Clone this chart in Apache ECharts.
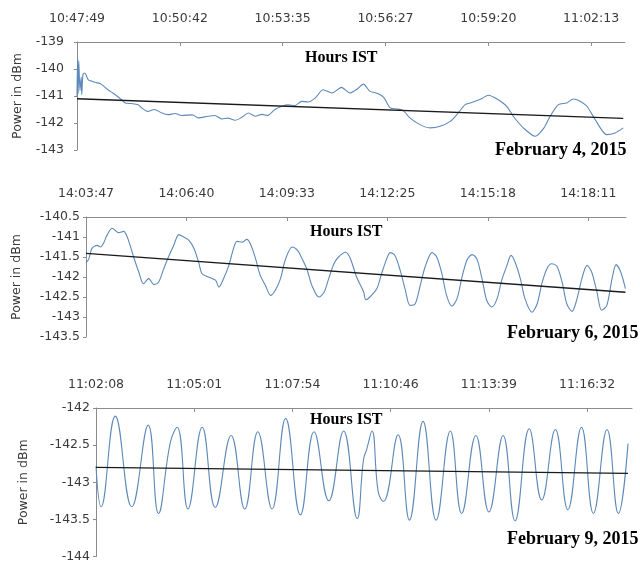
<!DOCTYPE html>
<html>
<head>
<meta charset="utf-8">
<script src="https://cdn.jsdelivr.net/npm/echarts@6/dist/echarts.min.js"></script>
<style>
html,body{margin:0;padding:0;background:#fff;}
#chart{width:640px;height:563px;}
</style>
</head>
<body>
<div id="chart"></div>
<script>
// ---------- tick labels (Hours IST) ----------
const ticksFeb4 = ['10:47:49','10:50:42','10:53:35','10:56:27','10:59:20','11:02:13'];
const ticksFeb6 = ['14:03:47','14:06:40','14:09:33','14:12:25','14:15:18','14:18:11'];
const ticksFeb9 = ['11:02:08','11:05:01','11:07:54','11:10:46','11:13:39','11:16:32'];
const tickStepSec = 173;              // 2 min 53 s between labelled ticks
const spanSec = [922, 930, 944];      // length of each record in seconds

// ---------- February 4, 2015 (seconds from 10:47:49, dBm) ----------
const feb4Time = [0,1,2,3,5,7,8,10,13,19,25,32,40,52,61,75,81,91,103,109,119,130,143,153,165,176,194,204,220,232,244,254,266,278,288,300,311,321,333,345,355,367,378,389,401,414,429,445,459,471,482,493,505,516,527,539,549,560,577,594,611,628,639,653,663,673,682,692,706,723,734,751,771,785,796,810,824,835,847,858,872,891,905,919];
const feb4Power = [-141.0,-139.6,-140.9,-139.7,-140.8,-140.3,-140.95,-140.2,-140.15,-140.4,-140.45,-140.5,-140.55,-140.77,-140.9,-141.14,-141.26,-141.28,-141.32,-141.44,-141.57,-141.5,-141.63,-141.69,-141.65,-141.72,-141.7,-141.81,-141.75,-141.72,-141.85,-141.82,-141.9,-141.78,-141.63,-141.75,-141.68,-141.72,-141.5,-141.38,-141.33,-141.35,-141.2,-141.22,-141.07,-140.77,-140.89,-140.68,-140.89,-140.75,-140.56,-140.83,-140.9,-141.05,-141.44,-141.48,-141.54,-141.81,-142.06,-142.18,-142.12,-141.94,-141.69,-141.32,-141.25,-141.17,-141.08,-140.97,-141.1,-141.38,-141.75,-142.18,-142.49,-142.2,-141.75,-141.32,-141.26,-141.11,-141.2,-141.38,-141.88,-142.43,-142.37,-142.18];
const feb4TrendTime = [0, 919];
const feb4TrendPower = [-141.1, -141.83];

// ---------- February 6, 2015 (seconds from 14:03:47, dBm) ----------
const feb6Time = [0,5,10,19,25,31,36,45,50,56,65,71,76,82,91,99,108,117,125,134,142,151,160,168,177,186,194,200,211,223,229,237,246,254,260,269,277,283,292,300,309,318,326,335,343,355,364,372,381,389,401,410,418,427,435,447,455,466,478,482,489,501,509,518,524,532,541,550,558,567,575,584,596,604,613,621,630,639,647,656,665,673,682,690,699,708,716,725,732,739,748,756,768,777,785,794,802,811,820,828,837,845,854,863,871,880,888,897,906,913,921,929];
const feb6Power = [-141.65,-141.54,-141.29,-141.21,-141.25,-141.13,-140.96,-140.78,-140.83,-140.89,-140.86,-141.0,-141.21,-141.5,-141.88,-142.17,-142.04,-142.19,-142.13,-141.79,-141.5,-141.21,-140.94,-141.0,-141.08,-141.29,-141.63,-141.92,-142.0,-142.08,-142.25,-142.04,-141.71,-141.29,-141.11,-141.13,-141.06,-141.17,-141.54,-141.96,-142.21,-142.46,-142.33,-142.04,-141.58,-141.25,-141.33,-141.54,-141.83,-142.21,-142.5,-142.38,-142.04,-141.67,-141.5,-141.38,-141.53,-142.0,-142.37,-142.57,-142.5,-142.29,-141.92,-141.54,-141.39,-141.46,-141.83,-142.33,-142.71,-142.67,-142.25,-141.75,-141.39,-141.5,-141.92,-142.46,-142.73,-142.54,-142.04,-141.58,-141.44,-141.54,-142.04,-142.58,-142.75,-142.54,-142.08,-141.71,-141.46,-141.63,-142.04,-142.54,-142.88,-142.67,-142.17,-141.79,-141.67,-141.73,-142.13,-142.67,-142.86,-142.58,-142.04,-141.71,-141.88,-142.38,-142.83,-142.71,-142.04,-141.69,-141.88,-142.29];
const feb6TrendTime = [0, 929];
const feb6TrendPower = [-141.41, -142.38];

// ---------- February 9, 2015 (seconds from 11:02:08, dBm) ----------
const feb9Time = [0,9,34,63,92,110,131,143,162,187,210,238,262,285,310,334,360,384,410,436,460,471,477,486,497,506,532,552,576,599,624,644,669,692,717,738,763,785,809,831,855,876,900,920,937];
const feb9Power = [-142.78,-143.33,-142.11,-143.33,-142.23,-143.42,-142.46,-142.26,-143.36,-142.26,-143.34,-142.37,-143.36,-142.32,-143.36,-142.14,-143.44,-142.32,-143.25,-142.31,-143.49,-142.7,-142.55,-142.31,-143.13,-143.26,-142.36,-143.51,-142.18,-143.51,-142.31,-143.42,-142.37,-143.4,-142.37,-143.52,-142.28,-143.24,-142.29,-143.37,-142.26,-143.42,-142.29,-143.42,-142.48];
const feb9TrendTime = [0, 937];
const feb9TrendPower = [-142.8, -142.88];

// ---------- build ----------
const zip = (a, b) => a.map((v, i) => [v, b[i]]);
const panels = [
  {ticks: ticksFeb4, t: feb4Time, p: feb4Power, tt: feb4TrendTime, tp: feb4TrendPower, yMin: -143, yMax: -139, yInt: 1,
   grid: {left: 77, top: 42, width: 548, height: 108}, nameGap: 51, labelMargin: 13, smooth: 0.25},
  {ticks: ticksFeb6, t: feb6Time, p: feb6Power, tt: feb6TrendTime, tp: feb6TrendPower, yMin: -143.5, yMax: -140.5, yInt: 0.5,
   grid: {left: 86, top: 217, width: 540, height: 120}, nameGap: 63, labelMargin: 6, smooth: 0.3},
  {ticks: ticksFeb9, t: feb9Time, p: feb9Power, tt: feb9TrendTime, tp: feb9TrendPower, yMin: -144, yMax: -142, yInt: 0.5,
   grid: {left: 96, top: 408, width: 536, height: 149}, nameGap: 66, labelMargin: 6, smooth: 0.45}
];

const axisColor = '#8c8c8c';
const textColor = '#3a3a3a';
const grids = [], xAxes = [], yAxes = [], series = [];
panels.forEach((pn, i) => {
  grids.push(Object.assign({containLabel: false}, pn.grid));
  const tickVals = pn.ticks.map((_, k) => k * tickStepSec);
  xAxes.push({
    type: 'value', gridIndex: i, position: 'top', min: 0, max: spanSec[i],
    axisLine: {show: true, lineStyle: {color: axisColor, width: 1}},
    axisTick: {show: true, inside: true, length: 4, customValues: tickVals, lineStyle: {color: axisColor}},
    axisLabel: {show: true, margin: 17, customValues: tickVals, color: textColor,
      fontFamily: 'DejaVu Sans', fontSize: 12.5,
      formatter: v => { const k = Math.round(v / tickStepSec); return Math.abs(v - k * tickStepSec) < 1 ? (pn.ticks[k] || '') : ''; }},
    splitLine: {show: false}
  });
  yAxes.push({
    type: 'value', gridIndex: i, min: pn.yMin, max: pn.yMax, interval: pn.yInt,
    name: 'Power in dBm', nameLocation: 'middle', nameGap: pn.nameGap,
    nameTextStyle: {color: textColor, fontFamily: 'DejaVu Sans', fontSize: 12.5},
    axisLine: {show: true, lineStyle: {color: axisColor, width: 1}},
    axisTick: {show: true, inside: false, length: 3, lineStyle: {color: axisColor}},
    axisLabel: {show: true, margin: pn.labelMargin, color: textColor, fontFamily: 'DejaVu Sans', fontSize: 12.5},
    splitLine: {show: false}
  });
  series.push({
    type: 'line', xAxisIndex: i, yAxisIndex: i, data: zip(pn.t, pn.p),
    showSymbol: false, smooth: pn.smooth, lineStyle: {color: '#5d89b8', width: 1.1}, z: 2
  });
  series.push({
    type: 'line', xAxisIndex: i, yAxisIndex: i, data: zip(pn.tt, pn.tp),
    showSymbol: false, lineStyle: {color: '#1a1a1a', width: 1.4}, z: 3
  });
});

const serifBold = 'bold 16px "Liberation Serif", "Times New Roman", serif';
const serifBoldBig = 'bold 18px "Liberation Serif", "Times New Roman", serif';
const graphic = [
  {type: 'text', left: 305, top: 50, style: {text: 'Hours IST', font: serifBold, fill: '#000'}},
  {type: 'text', left: 310, top: 224, style: {text: 'Hours IST', font: serifBold, fill: '#000'}},
  {type: 'text', left: 310, top: 412, style: {text: 'Hours IST', font: serifBold, fill: '#000'}},
  {type: 'text', left: 495, top: 141, style: {text: 'February 4, 2015', font: serifBoldBig, fill: '#000'}},
  {type: 'text', left: 507, top: 324, style: {text: 'February 6, 2015', font: serifBoldBig, fill: '#000'}},
  {type: 'text', left: 507, top: 530, style: {text: 'February 9, 2015', font: serifBoldBig, fill: '#000'}}
];

const chart = echarts.init(document.getElementById('chart'), null, {renderer: 'canvas'});
chart.setOption({
  animation: false,
  backgroundColor: '#ffffff',
  grid: grids, xAxis: xAxes, yAxis: yAxes, series: series, graphic: graphic
});
</script>
</body>
</html>
